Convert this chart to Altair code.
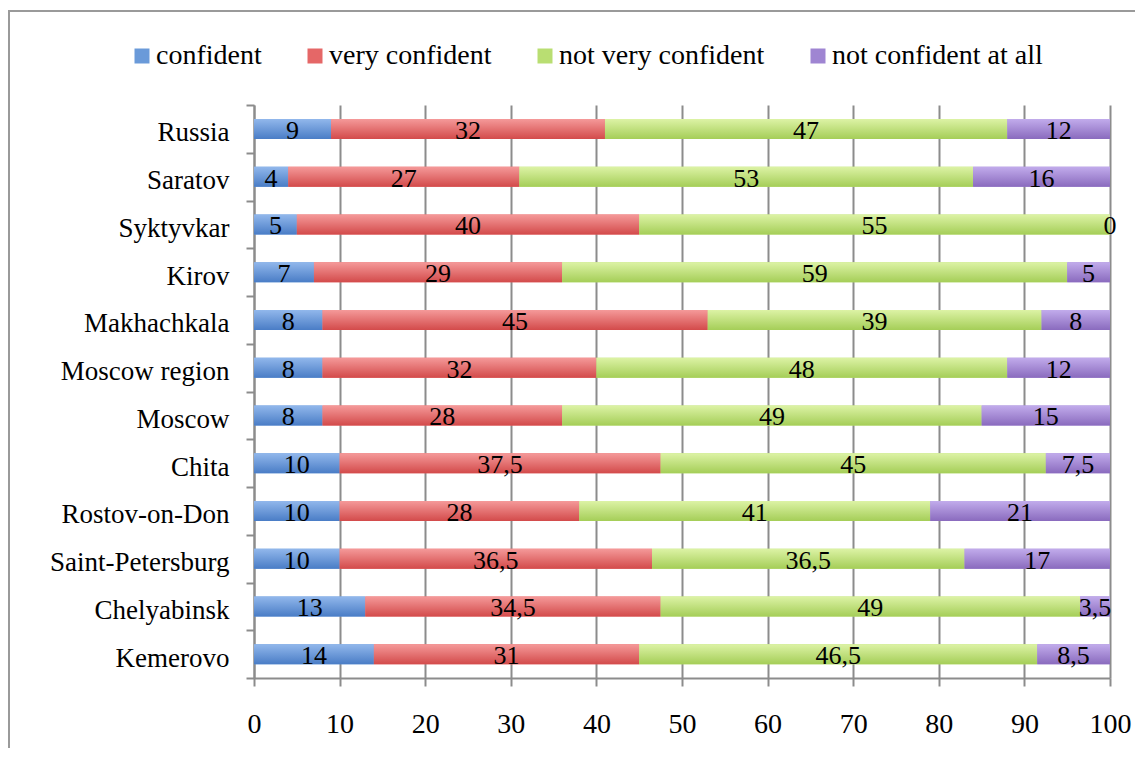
import altair as alt
import pandas as pd

regions = ["Russia", "Saratov", "Syktyvkar", "Kirov", "Makhachkala", "Moscow region",
           "Moscow", "Chita", "Rostov-on-Don", "Saint-Petersburg", "Chelyabinsk", "Kemerovo"]
confident = [9, 4, 5, 7, 8, 8, 8, 10, 10, 10, 13, 14]
very_confident = [32, 27, 40, 29, 45, 32, 28, 37.5, 28, 36.5, 34.5, 31]
not_very_confident = [47, 53, 55, 59, 39, 48, 49, 45, 41, 36.5, 49, 46.5]
not_confident_at_all = [12, 16, 0, 5, 8, 12, 15, 7.5, 21, 17, 3.5, 8.5]

categories = ["confident", "very confident", "not very confident", "not confident at all"]
colors = ["#6A9AD9", "#E56767", "#B9DE72", "#9F85D2"]
grad_top = ["#92B8EC", "#F59A9A", "#DDF3A6", "#C2ACEC"]
grad_bottom = ["#4A7DC6", "#D34B4B", "#A5CE58", "#8A6BBE"]
x_ticks = [0, 10, 20, 30, 40, 50, 60, 70, 80, 90, 100]

series = [confident, very_confident, not_very_confident, not_confident_at_all]
rows = []
for ci, (cat, vals) in enumerate(zip(categories, series)):
    for r, v in zip(regions, vals):
        rows.append({"region": r, "category": cat, "value": v, "k": ci,
                     "label": f"{v:g}".replace(".", ",")})
df = pd.DataFrame(rows)

FONT = "Liberation Serif"
GRAY = "#8C8C8C"
BAR = 20

y_axis = alt.Axis(title=None, tickBand="extent", domainColor=GRAY, domainWidth=2,
                  tickColor=GRAY, tickWidth=2, tickSize=8, labelPadding=17, labelLimit=400,
                  labelOffset=4, labelFont=FONT, labelFontSize=27, labelColor="black",
                  grid=False)
y_enc = alt.Y("region:N", sort=regions, scale=alt.Scale(paddingInner=0.0, paddingOuter=0.0),
              axis=y_axis)
x_axis = alt.Axis(title=None, values=x_ticks, grid=True, gridColor=GRAY, gridWidth=2,
                  domainColor=GRAY, domainWidth=2, tickColor=GRAY, tickWidth=2,
                  tickSize=8, labelPadding=24, labelFont=FONT, labelFontSize=28,
                  labelColor="black", labelFlush=False)

stacked = alt.Chart(df).transform_stack(
    stack="value", groupby=["region"], as_=["x0", "x1"], sort=[alt.SortField("k")]
)

base_bars = stacked.mark_bar(size=BAR).encode(
    y=y_enc,
    x=alt.X("x0:Q", scale=alt.Scale(domain=[0, 100], nice=False), axis=x_axis),
    x2="x1:Q",
    color=alt.Color("category:N", scale=alt.Scale(domain=categories, range=colors),
                    legend=alt.Legend(title=None, orient="none", legendX=-126, legendY=-63,
                                      direction="horizontal", columnPadding=39, labelOffset=0,
                                      symbolType="square", symbolSize=225,
                                      symbolStrokeWidth=0, labelFont=FONT, labelFontSize=28,
                                      labelColor="black", labelLimit=0, padding=0)),
)

grad_layers = []
for cat, top, bot in zip(categories, grad_top, grad_bottom):
    g = alt.LinearGradient(gradient="linear", x1=0, y1=0, x2=0, y2=1,
                           stops=[alt.GradientStop(color=top, offset=0),
                                  alt.GradientStop(color=bot, offset=1)])
    grad_layers.append(
        stacked.transform_filter(alt.datum.category == cat).mark_bar(size=BAR, fill=g).encode(
            y=alt.Y("region:N", sort=regions), x="x0:Q", x2="x1:Q")
    )

labels = stacked.transform_calculate(mid="(datum.x0 + datum.x1) / 2").mark_text(
    font=FONT, fontSize=26, color="black", baseline="middle", dy=2
).encode(y=alt.Y("region:N", sort=regions), x=alt.X("mid:Q"), text="label:N")

frame = alt.Chart(df).mark_rect(fill=None, stroke="#9A9A9A", strokeWidth=2).encode(
    x=alt.value(-245), x2=alt.value(920), y=alt.value(-94), y2=alt.value(720)
)

chart = alt.layer(frame, base_bars, *grad_layers, labels).properties(
    width=856, height=573,
    autosize=alt.AutoSizeParams(type="none"),
    padding={"left": 246, "top": 97, "right": 25, "bottom": 70},
).configure(font=FONT).configure_view(stroke=None)

chart.save("out.html", embed_options={"renderer": "svg", "actions": False})
